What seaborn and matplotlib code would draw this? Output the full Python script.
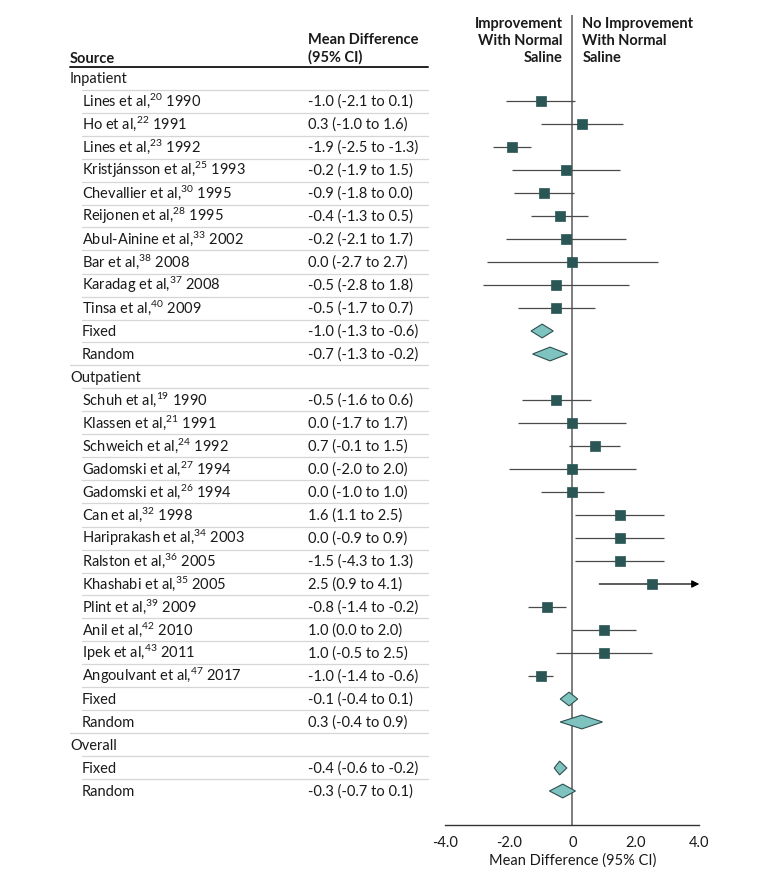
import numpy as np
import pandas as pd
import matplotlib
import matplotlib.pyplot as plt
import matplotlib.transforms as mtransforms
import seaborn as sns

matplotlib.use('Agg')

# Table rows, top to bottom
row_kind = ['group'] + ['study'] * 10 + ['pooled'] * 2 + \
           ['group'] + ['study'] * 13 + ['pooled'] * 2 + \
           ['group'] + ['pooled'] * 2

row_label = [
    'Inpatient',
    'Lines et al,$^{20}$ 1990', 'Ho et al,$^{22}$ 1991', 'Lines et al,$^{23}$ 1992',
    'Kristjánsson et al,$^{25}$ 1993', 'Chevallier et al,$^{30}$ 1995',
    'Reijonen et al,$^{28}$ 1995', 'Abul-Ainine et al,$^{33}$ 2002',
    'Bar et al,$^{38}$ 2008', 'Karadag et al,$^{37}$ 2008', 'Tinsa et al,$^{40}$ 2009',
    'Fixed', 'Random',
    'Outpatient',
    'Schuh et al,$^{19}$ 1990', 'Klassen et al,$^{21}$ 1991', 'Schweich et al,$^{24}$ 1992',
    'Gadomski et al,$^{27}$ 1994', 'Gadomski et al,$^{26}$ 1994', 'Can et al,$^{32}$ 1998',
    'Hariprakash et al,$^{34}$ 2003', 'Ralston et al,$^{36}$ 2005',
    'Khashabi et al,$^{35}$ 2005', 'Plint et al,$^{39}$ 2009', 'Anil et al,$^{42}$ 2010',
    'Ipek et al,$^{43}$ 2011', 'Angoulvant et al,$^{47}$ 2017',
    'Fixed', 'Random',
    'Overall',
    'Fixed', 'Random',
]

ci_text = [
    '',
    '-1.0 (-2.1 to 0.1)', '0.3 (-1.0 to 1.6)', '-1.9 (-2.5 to -1.3)', '-0.2 (-1.9 to 1.5)',
    '-0.9 (-1.8 to 0.0)', '-0.4 (-1.3 to 0.5)', '-0.2 (-2.1 to 1.7)', '0.0 (-2.7 to 2.7)',
    '-0.5 (-2.8 to 1.8)', '-0.5 (-1.7 to 0.7)', '-1.0 (-1.3 to -0.6)', '-0.7 (-1.3 to -0.2)',
    '',
    '-0.5 (-1.6 to 0.6)', '0.0 (-1.7 to 1.7)', '0.7 (-0.1 to 1.5)', '0.0 (-2.0 to 2.0)',
    '0.0 (-1.0 to 1.0)', '1.6 (1.1 to 2.5)', '0.0 (-0.9 to 0.9)', '-1.5 (-4.3 to 1.3)',
    '2.5 (0.9 to 4.1)', '-0.8 (-1.4 to -0.2)', '1.0 (0.0 to 2.0)', '1.0 (-0.5 to 2.5)',
    '-1.0 (-1.4 to -0.6)', '-0.1 (-0.4 to 0.1)', '0.3 (-0.4 to 0.9)',
    '',
    '-0.4 (-0.6 to -0.2)', '-0.3 (-0.7 to 0.1)',
]

# plotted values (as drawn in the figure)
md = [np.nan, -1.0, 0.3, -1.9, -0.2, -0.9, -0.4, -0.2, 0.0, -0.5, -0.5, -0.95, -0.7,
      np.nan, -0.5, 0.0, 0.7, 0.0, 0.0, 1.5, 1.5, 1.5, 2.5, -0.8, 1.0, 1.0, -1.0, -0.1, 0.3,
      np.nan, -0.4, -0.3]
lo = [np.nan, -2.1, -1.0, -2.5, -1.9, -1.85, -1.3, -2.1, -2.7, -2.8, -1.7, -1.3, -1.25,
      np.nan, -1.6, -1.7, -0.1, -2.0, -1.0, 0.1, 0.1, 0.1, 0.85, -1.4, 0.0, -0.5, -1.4, -0.38, -0.38,
      np.nan, -0.57, -0.72]
hi = [np.nan, 0.1, 1.6, -1.3, 1.5, 0.05, 0.5, 1.7, 2.7, 1.8, 0.7, -0.6, -0.15,
      np.nan, 0.6, 1.7, 1.5, 2.0, 1.0, 2.9, 2.9, 2.9, 4.1, -0.2, 2.0, 2.5, -0.6, 0.17, 0.95,
      np.nan, -0.17, 0.1]

x_ticks = [-4, -2, 0, 2, 4]
x_ticklabels = ['-4.0', '-2.0', '0', '2.0', '4.0']

df = pd.DataFrame({'kind': row_kind, 'label': row_label, 'ci': ci_text,
                   'md': md, 'lo': lo, 'hi': hi})
df['row'] = np.arange(len(df))

sns.set_style('white')
plt.rcParams['font.family'] = ['Lato', 'DejaVu Sans']
plt.rcParams['mathtext.fontset'] = 'custom'
plt.rcParams['mathtext.rm'] = 'Lato'
plt.rcParams['mathtext.it'] = 'Lato'
plt.rcParams['text.color'] = '#1a1a1a'
plt.rcParams['xtick.color'] = '#1a1a1a'
plt.rcParams['axes.labelcolor'] = '#1a1a1a'

W, H = 780, 877
fig = plt.figure(figsize=(W / 100, H / 100), dpi=100)
ax = fig.add_axes([445.3 / W, 52 / H, 254 / W, 810 / H])

row_px0, row_step = 78, 23
ax.set_ylim((825 - row_px0) / row_step, (15 - row_px0) / row_step)
ax.set_xlim(-4, 4)

dark = '#2b5656'
line_c = '#4a4a4a'
fs = 10.5
base_off = 5.2 / row_step  # baseline sits a little below the row centre

ax.axvline(0, color='#5a5a5a', lw=1.1, zorder=1)

studies = df[df['kind'] == 'study']
for _, r in studies.iterrows():
    if r['hi'] > 4:
        ax.annotate('', xy=(4.0, r['row']), xytext=(r['lo'], r['row']),
                    arrowprops=dict(arrowstyle='-|>', color='black', lw=0.9,
                                    mutation_scale=11, shrinkA=0, shrinkB=0),
                    annotation_clip=False)
    else:
        ax.hlines(r['row'], r['lo'], r['hi'], color=line_c, lw=0.9, zorder=2)
sns.scatterplot(data=studies, x='md', y='row', marker='s', s=50, color=dark,
                edgecolor=dark, linewidth=0.5, zorder=3, ax=ax, clip_on=False)

pooled = df[df['kind'] == 'pooled']
for _, r in pooled.iterrows():
    h = 0.3
    ax.fill([r['lo'], r['md'], r['hi'], r['md']],
            [r['row'], r['row'] - h, r['row'], r['row'] + h],
            facecolor='#7fc3c0', edgecolor='#2f4f4f', lw=0.8, zorder=3)

# axis styling
sns.despine(ax=ax, left=True, top=True, right=True)
ax.spines['bottom'].set_color('#333333')
ax.spines['bottom'].set_linewidth(1.0)
ax.set_yticks([])
ax.set_xticks(x_ticks)
ax.set_xticklabels(x_ticklabels, fontsize=fs)
ax.tick_params(axis='x', direction='out', length=5, width=1.0, color='#333333', pad=3)
ax.set_xlabel('Mean Difference (95% CI)', fontsize=fs, labelpad=2)
ax.set_ylabel('')

# table on the left
tr = mtransforms.blended_transform_factory(fig.transFigure, ax.transData)
x_group, x_item, x_ci, x_end = 70 / W, 82 / W, 308 / W, 428 / W

for i, r in df.iterrows():
    xt = x_group if r['kind'] == 'group' else x_item
    ax.text(xt, r['row'] + base_off, r['label'], transform=tr, fontsize=fs,
            va='baseline', ha='left', clip_on=False)
    if r['ci']:
        ax.text(x_ci, r['row'] + base_off, r['ci'], transform=tr, fontsize=fs,
                va='baseline', ha='left', clip_on=False)
    if i < len(df) - 1:
        xs = x_group if df.loc[i + 1, 'kind'] == 'group' else x_item
        ax.plot([xs, x_end], [i + 0.5, i + 0.5], transform=tr, color='#d6d6d6',
                lw=0.9, clip_on=False)

hdr_y = (59 - row_px0) / row_step
ax.text(x_group, hdr_y, 'Source', transform=tr, fontsize=fs, fontweight='bold',
        va='center', ha='left', clip_on=False)
ax.text(x_ci, (49 - row_px0) / row_step, 'Mean Difference\n(95% CI)', transform=tr,
        fontsize=fs, fontweight='bold', va='center', ha='left', linespacing=1.3,
        clip_on=False)
ax.plot([x_group, x_end], [-0.48, -0.48], transform=tr, color='#222222', lw=1.4,
        clip_on=False)

top_y = (41 - row_px0) / row_step
ax.text(562.5 / W, top_y, 'Improvement\nWith Normal\nSaline', transform=tr,
        fontsize=fs, fontweight='bold', va='center', ha='right', linespacing=1.25,
        clip_on=False)
ax.text(582.5 / W, top_y, 'No Improvement\nWith Normal\nSaline', transform=tr,
        fontsize=fs, fontweight='bold', va='center', ha='left', linespacing=1.25,
        clip_on=False)

fig.savefig('out.png', dpi=100)
